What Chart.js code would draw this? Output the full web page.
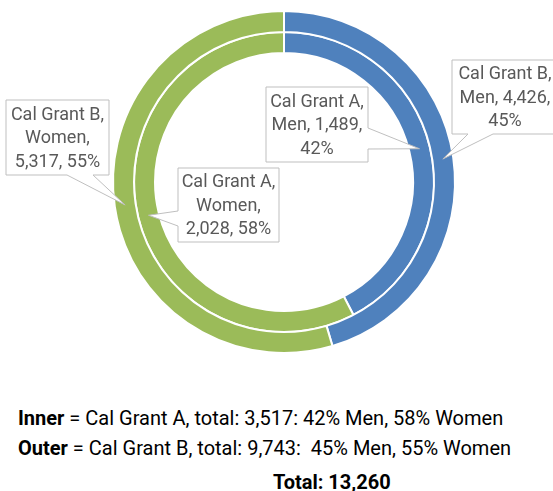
<!DOCTYPE html>
<html>
<head>
<meta charset="utf-8">
<script src="https://cdn.jsdelivr.net/npm/chart.js@4.4.1/dist/chart.umd.min.js"></script>
<style>
  html,body{margin:0;padding:0;background:#fff;}
  #wrap{position:relative;width:553px;height:491px;overflow:hidden;}
  #chart{position:absolute;left:0;top:0;}
  .cap{position:absolute;font-family:Roboto,'Open Sans',sans-serif;font-size:20px;color:#000;white-space:nowrap;line-height:1;}
</style>
</head>
<body>
<div id="wrap">
  <canvas id="chart" width="553" height="400"></canvas>
  <div class="cap" id="capInner" style="left:18px;top:408px"></div>
  <div class="cap" id="capOuter" style="left:18px;top:438px"></div>
  <div class="cap" id="capTotal" style="left:273px;top:472px"></div>
</div>
<script>
(function(){
  'use strict';

  /* ── Data ── */
  const genders=['Men','Women'];
  const grantA=[1489,2028];   // inner ring
  const grantB=[4426,5317];   // outer ring
  const colors=['#4F81BD','#9BBB59'];

  const sum=a=>a.reduce((s,v)=>s+v,0);
  const pct=(v,a)=>Math.round(v/sum(a)*100);
  const fmt=v=>v.toLocaleString('en-US');

  /* dataset 0 = outer ring, dataset 1 = inner ring */
  const rings=[
    {name:'Cal Grant B',values:grantB},
    {name:'Cal Grant A',values:grantA}
  ];

  /* ── Callout boxes (label layout only); words = words per line ── */
  const callouts=[
    {ds:0,i:0,box:[452,60,106,74],side:'bottom',base:[468,493],words:[3,2,1]},
    {ds:1,i:0,box:[266,87,102,75],side:'right',base:[128,149],words:[3,2,1]},
    {ds:0,i:1,box:[6,100,103,75],side:'bottom',base:[67,93],words:[3,1,2]},
    {ds:1,i:1,box:[178,168,101,74],side:'left',base:[211,226],words:[3,1,2]}
  ];

  function splitLines(text,counts){
    const w=text.split(' ');let k=0;
    return counts.map(n=>{const s=w.slice(k,k+n).join(' ');k+=n;return s;});
  }

  function calloutPath(ctx,c,tip){
    const [x,y,w,h]=c.box,[a,b]=c.base;
    ctx.beginPath();
    ctx.moveTo(x,y);
    ctx.lineTo(x+w,y);
    if(c.side==='right'){ctx.lineTo(x+w,a);ctx.lineTo(tip.x,tip.y);ctx.lineTo(x+w,b);}
    ctx.lineTo(x+w,y+h);
    if(c.side==='bottom'){ctx.lineTo(b,y+h);ctx.lineTo(tip.x,tip.y);ctx.lineTo(a,y+h);}
    ctx.lineTo(x,y+h);
    if(c.side==='left'){ctx.lineTo(x,b);ctx.lineTo(tip.x,tip.y);ctx.lineTo(x,a);}
    ctx.closePath();
  }

  const calloutPlugin={
    id:'callouts',
    afterDraw(chart){
      const ctx=chart.ctx;
      ctx.save();
      ctx.font='18px Roboto, "Open Sans", sans-serif';
      ctx.textAlign='center';
      ctx.textBaseline='middle';
      callouts.forEach(c=>{
        const arc=chart.getDatasetMeta(c.ds).data[c.i];
        const tip=arc.getCenterPoint();
        const ring=rings[c.ds];
        const v=ring.values[c.i];
        calloutPath(ctx,c,tip);
        ctx.fillStyle='#fff';
        ctx.fill();
        ctx.strokeStyle='#BFBFBF';
        ctx.lineWidth=1;
        ctx.stroke();
        const label=ring.name+', '+genders[c.i]+', '+fmt(v)+', '+pct(v,ring.values)+'%';
        const lines=splitLines(label,c.words);
        const lh=23.5;
        const cx=c.box[0]+c.box[2]/2;
        const cy=c.box[1]+c.box[3]/2+1;
        ctx.fillStyle='#595959';
        lines.forEach((ln,k)=>{
          ctx.fillText(ln,cx,cy+(k-(lines.length-1)/2)*lh);
        });
      });
      ctx.restore();
    }
  };

  new Chart(document.getElementById('chart'),{
    type:'doughnut',
    data:{
      labels:genders,
      datasets:rings.map(r=>({
        label:r.name,
        data:r.values,
        backgroundColor:colors,
        borderColor:'#fff',
        borderWidth:2,
        hoverBorderWidth:2
      }))
    },
    options:{
      responsive:false,
      animation:false,
      events:[],
      cutout:129,
      layout:{padding:{left:112,top:10,right:97,bottom:46}},
      plugins:{legend:{display:false},tooltip:{enabled:false}}
    },
    plugins:[calloutPlugin]
  });

  /* ── Caption ── */
  const totA=sum(grantA),totB=sum(grantB);
  document.getElementById('capInner').innerHTML='<b>Inner</b> = Cal Grant A, total: '+fmt(totA)+': '+pct(grantA[0],grantA)+'% Men, '+pct(grantA[1],grantA)+'% Women';
  document.getElementById('capOuter').innerHTML='<b>Outer</b> = Cal Grant B, total: '+fmt(totB)+':&nbsp; '+pct(grantB[0],grantB)+'% Men, '+pct(grantB[1],grantB)+'% Women';
  document.getElementById('capTotal').innerHTML='<b>Total: '+fmt(totA+totB)+'</b>';
})();
</script>
</body>
</html>
